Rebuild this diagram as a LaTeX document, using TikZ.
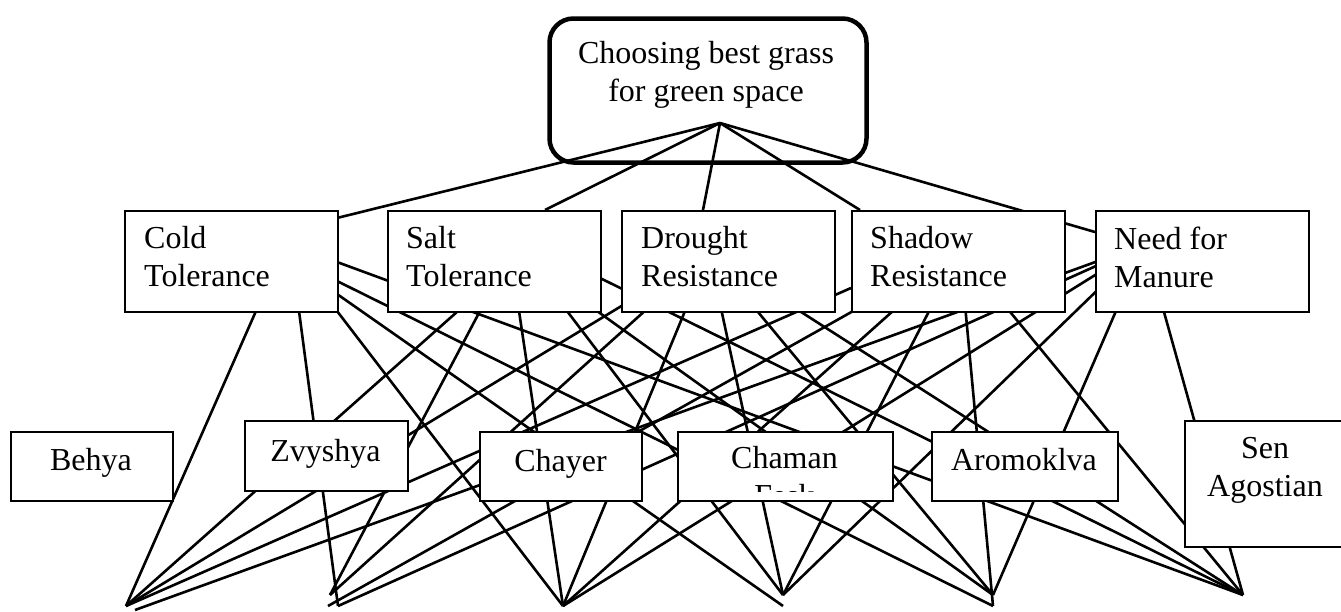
\documentclass[tikz,border=0pt]{standalone}
\usepackage{fontspec}
\setmainfont{Liberation Serif}
\usetikzlibrary{calc}
\newcommand\diagfont{\fontsize{32}{38}\selectfont}
\begin{document}
\begin{tikzpicture}[x=1pt,y=-1pt,
  goalbox/.style={draw,line width=4.5pt,fill=white,rounded corners=24pt,inner sep=0pt,anchor=north west,minimum width=317pt,minimum height=144pt},
  critbox/.style={draw,line width=2.3pt,fill=white,inner sep=0pt,anchor=north west,minimum width=213pt,minimum height=101pt},
  altbox/.style={draw,line width=2.3pt,fill=white,inner sep=0pt,anchor=north west},
  link/.style={line width=2.6pt},
  lbl/.style={inner sep=0pt,font=\diagfont,align=left,anchor=north west},
  clbl/.style={inner sep=0pt,font=\diagfont,align=center},
]
\useasboundingbox (0,0) rectangle (1341,611);
\clip (0,0) rectangle (1341,611);

% goal
\node[goalbox] (goal) at (547.25,16.25) {};
\coordinate (hub) at (720,123);

% bottom meeting points
\coordinate (A1) at (126,606);
\coordinate (A2) at (135,610);
\coordinate (B1) at (330,595);
\coordinate (B2) at (338,606);
\coordinate (B3) at (328,606);
\coordinate (C) at (563,606);
\coordinate (D1) at (783,595);
\coordinate (D2) at (783,606);
\coordinate (E1) at (993,595);
\coordinate (E2) at (993,606);
\coordinate (F) at (1243,595);

% corners of the criteria boxes
\path (124,210) coordinate (coldNW);
\path (387,210) coordinate (saltNW);
\path (621,210) coordinate (drouNW);
\path (851,210) coordinate (shadNW);
\path (1095,210) coordinate (manuNW);

% lines from goal
\draw[link] (hub) -- ($(coldNW)+(213,8)$);
\draw[link] (hub) -- ($(saltNW)+(158,0)$);
\draw[link] (hub) -- ($(drouNW)+(82,0)$);
\draw[link] (hub) -- ($(shadNW)+(9,0)$);
\draw[link] (hub) -- ($(manuNW)+(0,22)$);

% Cold
\draw[link] ($(coldNW)+(132,101)$) -- (A1);
\draw[link] ($(coldNW)+(175,101)$) -- (B2);
\draw[link] ($(coldNW)+(213,101)$) -- (C);
\draw[link] ($(coldNW)+(213,84)$) -- (D2);
\draw[link] ($(coldNW)+(213,71)$) -- (E2);
\draw[link] ($(coldNW)+(213,52)$) -- (F);
% Salt
\draw[link] ($(saltNW)+(71,101)$) -- (A1);
\draw[link] ($(saltNW)+(93,101)$) -- (B1);
\draw[link] ($(saltNW)+(132,101)$) -- (C);
\draw[link] ($(saltNW)+(180,101)$) -- (D1);
\draw[link] ($(saltNW)+(210,101)$) -- (E1);
\draw[link] ($(saltNW)+(213,68)$) -- (F);
% Drought
\coordinate (drouO) at ($(drouNW)+(88,43)$);
\foreach \t in {A1,B1,C,D1,E1,F} \draw[link] (drouO) -- (\t);
% Shadow
\coordinate (shadO) at ($(shadNW)+(109,41)$);
\draw[link] ($(shadNW)+(0,78)$) -- (A1);
\foreach \t in {B3,C,D1,E2,F} \draw[link] (shadO) -- (\t);
% Manure
\coordinate (manuO) at ($(manuNW)+(50,34)$);
\foreach \t in {A2,B2,C,D1,E1,F} \draw[link] (manuO) -- (\t);

% criteria boxes
\node[critbox] (cold) at (coldNW) {};
\node[critbox] (salt) at (saltNW) {};
\node[critbox] (drought) at (drouNW) {};
\node[critbox] (shadow) at (shadNW) {};
\node[critbox] (manure) at (manuNW) {};

% alternatives
\node[altbox,minimum width=162pt,minimum height=69pt] (behya) at (10,431) {};
\node[altbox,minimum width=163pt,minimum height=70pt] (zvyshya) at (244,420) {};
\node[altbox,minimum width=162pt,minimum height=69pt] (chayer) at (479,431) {};
\node[altbox,minimum width=215pt,minimum height=69pt] (chaman) at (677,431) {};
\node[altbox,minimum width=186pt,minimum height=69pt] (aromo) at (931,431) {};
\node[altbox,minimum width=164pt,minimum height=126pt] (sen) at (1184,420) {};

% texts
\node[clbl,anchor=north] (goalT) at (706,41.5) {Choosing best grass\\for green space};
\node[lbl] (coldT) at (144,226.5) {Cold\\Tolerance};
\node[lbl] (saltT) at (406,226.5) {Salt\\Tolerance};
\node[lbl] (drouT) at (641,226.5) {Drought\\Resistance};
\node[lbl] (shadT) at (870,226.5) {Shadow\\Resistance};
\node[lbl] (manuT) at (1114,226.5) {Need for\\Manure};

\node[clbl,anchor=base] (behyaT) at (91,470) {Behya};
\node[clbl,anchor=base] (zvyT) at (325.5,461) {Zvyshya};
\node[clbl,anchor=base] (chayT) at (560.5,471) {Chayer};
\node[clbl,anchor=base] (aromoT) at (1024,470) {Aromoklva};
\node[clbl,anchor=north] (senT) at (1265,436.7) {Sen\\Agostian};
\begin{scope}
\clip (678,432) rectangle (891,491);
\node[clbl,anchor=north] (chamT) at (784.5,446.5) {Chaman\\Fesk};
\end{scope}
\end{tikzpicture}
\end{document}
